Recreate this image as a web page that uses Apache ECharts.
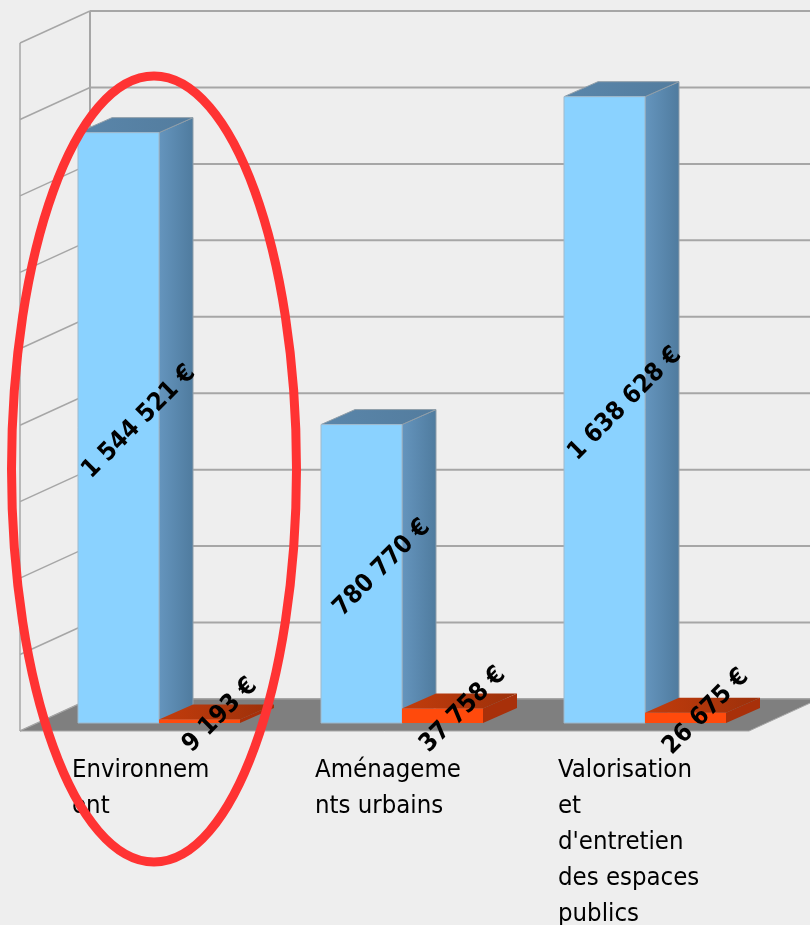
<!DOCTYPE html>
<html>
<head>
<meta charset="utf-8">
<style>html,body{margin:0;padding:0;background:#eeeeee}#c{width:810px;height:925px}</style>
<script src="https://cdn.jsdelivr.net/npm/echarts@6/dist/echarts.min.js"></script>
</head>
<body>
<div id="c"></div>
<script>
const categories = ['Environnem\nent', 'Aménageme\nnts urbains', "Valorisation\net\nd'entretien\ndes espaces\npublics"];
const blueValues = [1544521, 780770, 1638628];
const orangeValues = [9193, 37758, 26675];
const blueLabels = ['1 544 521 €', '780 770 €', '1 638 628 €'];
const orangeLabels = ['9 193 €', '37 758 €', '26 675 €'];
const valueTicks = [0, 200000, 400000, 600000, 800000, 1000000, 1200000, 1400000, 1600000, 1800000];

const FONT = '"DejaVu Sans Condensed", "DejaVu Sans", sans-serif';
const BAR_DX = 34, BAR_DY = 15;        // depth of a 3D bar
const FRONT_DX = 17.5, FRONT_DY = 8;   // floor front edge relative to the bar plane
const BACK_DX = 52.5, BACK_DY = 24;    // back wall relative to the bar plane
const GRID = '#a6a6a6';

function hGrad(a, b) {
  return { type: 'linear', x: 0, y: 0, x2: 1, y2: 0, colorStops: [{ offset: 0, color: a }, { offset: 1, color: b }] };
}

function wallItem(params, api) {
  const cs = params.coordSys;
  const tick = api.value(1);
  const y = api.coord([0, tick])[1];
  const xl = cs.x - FRONT_DX, xb = cs.x + BACK_DX;
  const children = [
    { type: 'line', shape: { x1: xl, y1: y + FRONT_DY, x2: xb, y2: y - BACK_DY }, style: { stroke: GRID, lineWidth: 1.5 } },
    { type: 'line', shape: { x1: xb, y1: y - BACK_DY, x2: api.getWidth(), y2: y - BACK_DY }, style: { stroke: GRID, lineWidth: 2 } }
  ];
  if (params.dataIndex === valueTicks.length - 1) {
    const y0 = api.coord([0, 0])[1];
    children.push({ type: 'line', shape: { x1: xl, y1: y + FRONT_DY, x2: xl, y2: y0 + FRONT_DY }, style: { stroke: GRID, lineWidth: 1.5 } });
    children.push({ type: 'line', shape: { x1: xb, y1: y - BACK_DY, x2: xb, y2: y0 - BACK_DY }, style: { stroke: GRID, lineWidth: 2 } });
  }
  return { type: 'group', children };
}

function floorItem(params, api) {
  const cs = params.coordSys;
  const y = api.coord([0, 0])[1];
  const xl = cs.x - FRONT_DX, xr = cs.x + cs.width - FRONT_DX;
  return {
    type: 'polygon',
    shape: { points: [[xl, y + FRONT_DY], [xl + 70, y - BACK_DY], [xr + 70, y - BACK_DY], [xr, y + FRONT_DY]] },
    style: { fill: '#7f7f7f', stroke: '#a6a6a6', lineWidth: 1 }
  };
}

function barRenderer(side, labels, colors) {
  return function (params, api) {
    const idx = api.value(0);
    const p = api.coord([idx, api.value(1)]);
    const base = api.coord([idx, 0])[1];
    const w = api.size([1, 0])[0] / 3;
    const x0 = side === 0 ? p[0] - w : p[0];
    const x1 = x0 + w;
    const top = p[1];
    return {
      type: 'group',
      children: [
        { type: 'polygon', shape: { points: [[x1, top], [x1 + BAR_DX, top - BAR_DY], [x1 + BAR_DX, base - BAR_DY], [x1, base]] },
          style: { fill: colors.side, stroke: colors.edge, lineWidth: colors.edgeWidth } },
        { type: 'polygon', shape: { points: [[x0, top], [x0 + BAR_DX, top - BAR_DY], [x1 + BAR_DX, top - BAR_DY], [x1, top]] },
          style: { fill: colors.top, stroke: colors.edge, lineWidth: colors.edgeWidth } },
        { type: 'rect', shape: { x: x0, y: top, width: w, height: base - top },
          style: { fill: colors.front, stroke: colors.frontEdge, lineWidth: colors.edgeWidth } },
        { type: 'text', x: x0 + w / 2 + BAR_DX / 2 + 3.5, y: (top + base) / 2 - BAR_DY / 2 + 1.5, rotation: Math.PI / 4,
          z2: 50,
          style: { text: labels[params.dataIndex], fill: '#000', font: 'bold 25px ' + FONT, align: 'center', verticalAlign: 'middle' } }
      ]
    };
  };
}

const blueColors = { front: '#8ad2ff', side: hGrad('#6595be', '#4f7b9e'), top: hGrad('#5a86aa', '#537c9e'), edge: '#8f9ea9', frontEdge: '#9fb9cc', edgeWidth: 1 };
const orangeColors = { front: '#ff4a0c', side: '#a8300a', top: hGrad('#c23c0c', '#9c300a'), edge: 'rgba(0,0,0,0)', frontEdge: 'rgba(0,0,0,0)', edgeWidth: 0 };

const chart = echarts.init(document.getElementById('c'), null, { renderer: 'canvas' });
chart.setOption({
  animation: false,
  backgroundColor: '#eeeeee',
  grid: { left: 37.5, width: 729, top: 35, bottom: 202, containLabel: false, outerBoundsMode: 'none' },
  xAxis: {
    type: 'category', data: categories, boundaryGap: true,
    axisLine: { show: false }, axisTick: { show: false }, splitLine: { show: false },
    axisLabel: { interval: 0, align: 'left', verticalAlign: 'top', hideOverlap: false, margin: 29,
      padding: [0, 0, 0, -87], color: '#000', fontFamily: FONT, fontSize: 25.5, lineHeight: 36 }
  },
  yAxis: {
    type: 'value', min: 0, max: 1800000, interval: 200000,
    axisLine: { show: false }, axisTick: { show: false }, axisLabel: { show: false }, splitLine: { show: false }
  },
  graphic: [{
    type: 'ellipse', z: 100, silent: true,
    shape: { cx: 154, cy: 469, rx: 142.5, ry: 393 },
    style: { fill: null, stroke: '#ff3333', lineWidth: 9 }
  }],
  series: [
    { type: 'custom', z: 1, renderItem: wallItem, data: valueTicks.map(v => [0, v]), encode: { x: 0, y: 1 }, silent: true, clip: false },
    { type: 'custom', z: 2, renderItem: floorItem, data: [[0, 0]], encode: { x: 0, y: 1 }, silent: true, clip: false },
    { type: 'custom', z: 3, renderItem: barRenderer(0, blueLabels, blueColors), data: blueValues.map((v, i) => [i, v]), encode: { x: 0, y: 1 }, clip: false },
    { type: 'custom', z: 4, renderItem: barRenderer(1, orangeLabels, orangeColors), data: orangeValues.map((v, i) => [i, v]), encode: { x: 0, y: 1 }, clip: false }
  ]
});
</script>
</body>
</html>
